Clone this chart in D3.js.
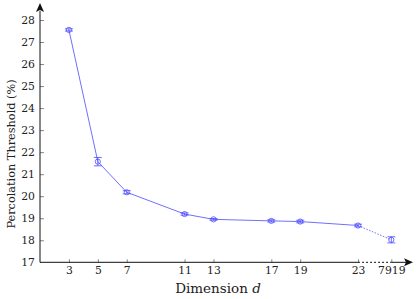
<!DOCTYPE html>
<html>
<head>
<meta charset="utf-8">
<script src="https://cdn.jsdelivr.net/npm/d3@7"></script>
<style>
  body { margin: 0; background: #fff; }
  svg { display: block; }
  text { font-family: "DejaVu Serif", serif; }
</style>
</head>
<body>
<script>
// data
var dims = [3, 5, 7, 11, 13, 17, 19, 23, 7919];
var threshold = [27.55, 21.57, 20.18, 19.19, 18.95, 18.88, 18.85, 18.67, 18.02];
var errors = [0.05, 0.19, 0.07, 0.05, 0.04, 0.05, 0.06, 0.06, 0.14];
var yTicks = [17, 18, 19, 20, 21, 22, 23, 24, 25, 26, 27, 28];

var width = 416;
var height = 299;
var origin = {x: 40, y: 262.3};

// the last dimension sits after a break in the x axis
var breakAt = 23;
var breakPos = 25.3;
function axisPos(d) { return d <= breakAt ? d : breakPos; }

var xScale = d3.scaleLinear()
                .domain([1, 26.8])
                .range([origin.x, 413]);
var yScale = d3.scaleLinear()
                .domain([17, 28])
                .range([origin.y, 20]);

var svg = d3.select("body")
            .append("svg")
            .attr("width", width)
            .attr("height", height);

var blue = "#4a4aff";

// x axis ticks (inside) and labels
var xAxis = d3.axisBottom(xScale)
                .tickValues(dims.map(axisPos))
                .tickFormat(function(v, i) { return dims[i]; })
                .tickSizeInner(-3)
                .tickSizeOuter(0)
                .tickPadding(4);
var gx = svg.append("g")
            .attr("transform", "translate(0," + origin.y + ")")
            .call(xAxis)
            .attr("font-size", 10.8);
gx.select(".domain").remove();
gx.selectAll(".tick line").attr("stroke", "#333").attr("stroke-width", 0.6);
gx.selectAll(".tick text").attr("fill", "#222");

var yAxis = d3.axisLeft(yScale)
                .tickValues(yTicks)
                .tickSizeInner(-4)
                .tickSizeOuter(0)
                .tickPadding(5);
var gy = svg.append("g")
            .attr("transform", "translate(" + origin.x + ",0)")
            .call(yAxis)
            .attr("font-size", 10.8);
gy.select(".domain").remove();
gy.selectAll(".tick line").attr("stroke", "#333").attr("stroke-width", 0.6)
    .attr("opacity", function(d) { return d == 17 ? 0 : 1; });
gy.selectAll(".tick text").attr("fill", "#222");

// axis lines with arrows, dotted across the break
var axisColor = "#111";
svg.append("line")
    .attr("x1", origin.x).attr("y1", origin.y)
    .attr("x2", xScale(breakAt)).attr("y2", origin.y)
    .attr("stroke", axisColor).attr("stroke-width", 1);
svg.append("line")
    .attr("x1", xScale(breakAt)).attr("y1", origin.y)
    .attr("x2", xScale(breakPos)).attr("y2", origin.y)
    .attr("stroke", axisColor).attr("stroke-width", 1)
    .attr("stroke-dasharray", "2,2");
svg.append("line")
    .attr("x1", xScale(breakPos)).attr("y1", origin.y)
    .attr("x2", 406).attr("y2", origin.y)
    .attr("stroke", axisColor).attr("stroke-width", 1);
svg.append("path")
    .attr("d", "M413," + origin.y + " L404," + (origin.y - 4) + " L406," + origin.y + " L404," + (origin.y + 4) + " Z")
    .attr("fill", axisColor);

svg.append("line")
    .attr("x1", origin.x).attr("y1", origin.y)
    .attr("x2", origin.x).attr("y2", 11)
    .attr("stroke", axisColor).attr("stroke-width", 1);
svg.append("path")
    .attr("d", "M" + origin.x + ",3 L" + (origin.x - 4) + ",12 L" + origin.x + ",10 L" + (origin.x + 4) + ",12 Z")
    .attr("fill", axisColor);

// data line: solid up to the break, dotted after it
var points = dims.map(function(d, i) { return [xScale(axisPos(d)), yScale(threshold[i])]; });
var line = d3.line();
svg.append("path")
    .attr("d", line(points.slice(0, dims.length - 1)))
    .attr("fill", "none")
    .attr("stroke", blue)
    .attr("stroke-width", 0.8);
svg.append("path")
    .attr("d", line(points.slice(dims.length - 2)))
    .attr("fill", "none")
    .attr("stroke", blue)
    .attr("stroke-width", 0.8)
    .attr("stroke-dasharray", "1.5,1.5");

// error bars
var bars = svg.selectAll(".err")
                .data(dims)
                .enter()
                .append("g")
                .attr("class", "err");
bars.append("line")
    .attr("x1", function(d) { return xScale(axisPos(d)); })
    .attr("x2", function(d) { return xScale(axisPos(d)); })
    .attr("y1", function(d, i) { return yScale(threshold[i] - errors[i]); })
    .attr("y2", function(d, i) { return yScale(threshold[i] + errors[i]); })
    .attr("stroke", blue).attr("stroke-width", 0.8);
[-1, 1].forEach(function(s) {
    bars.append("line")
        .attr("x1", function(d) { return xScale(axisPos(d)) - 4; })
        .attr("x2", function(d) { return xScale(axisPos(d)) + 4; })
        .attr("y1", function(d, i) { return yScale(threshold[i] + s * errors[i]); })
        .attr("y2", function(d, i) { return yScale(threshold[i] + s * errors[i]); })
        .attr("stroke", blue).attr("stroke-width", 0.8);
});

// markers
svg.selectAll(".mark")
    .data(dims)
    .enter()
    .append("circle")
    .attr("class", "mark")
    .attr("cx", function(d) { return xScale(axisPos(d)); })
    .attr("cy", function(d, i) { return yScale(threshold[i]); })
    .attr("r", 2.6)
    .attr("fill", "none")
    .attr("stroke", blue)
    .attr("stroke-width", 0.8);

// axis labels
var xLabel = svg.append("text")
    .attr("x", 218)
    .attr("y", 293)
    .attr("text-anchor", "middle")
    .attr("font-size", 13.5)
    .attr("fill", "#222");
xLabel.append("tspan").text("Dimension ");
xLabel.append("tspan").attr("font-style", "italic").text("d");

svg.append("text")
    .attr("transform", "translate(15,154) rotate(-90)")
    .attr("text-anchor", "middle")
    .attr("font-size", 11.3)
    .attr("fill", "#222")
    .text("Percolation Threshold (%)");
</script>
</body>
</html>
